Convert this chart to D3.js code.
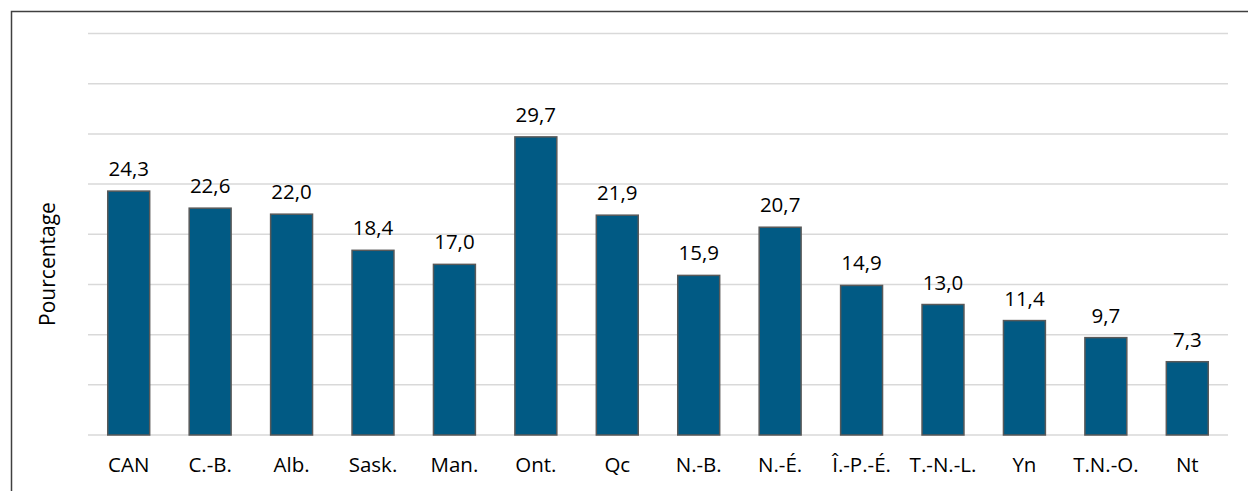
<!DOCTYPE html>
<html lang="fr">
<head>
<meta charset="UTF-8">
<title>Pourcentage par province</title>
<style>
  html, body { margin: 0; padding: 0; background: #fff; }
  svg { display: block; font-family: "Open Sans", "Noto Sans", sans-serif; }
</style>
</head>
<body>
<script src="https://cdn.jsdelivr.net/npm/d3@7"></script>
<script>
var categories = ['CAN', 'C.-B.', 'Alb.', 'Sask.', 'Man.', 'Ont.', 'Qc', 'N.-B.', 'N.-É.', 'Î.-P.-É.', 'T.-N.-L.', 'Yn', 'T.N.-O.', 'Nt'];
var values = [24.3, 22.6, 22.0, 18.4, 17.0, 29.7, 21.9, 15.9, 20.7, 14.9, 13.0, 11.4, 9.7, 7.3];
var yTicks = [0, 5, 10, 15, 20, 25, 30, 35, 40];
var yTitle = 'Pourcentage';

var width = 1248, height = 491;
var svg = d3.select('body').append('svg').attr('width', width).attr('height', height);

// outer frame (only top and left edges are visible in the picture)
svg.append('path')
    .attr('d', 'M11.5,' + height + 'V11.5H' + width)
    .attr('fill', 'none').attr('stroke', '#404040').attr('stroke-width', 1.5);

var x = d3.scaleBand().domain(categories).range([88, 1228]).paddingInner(0.485).paddingOuter(0.2425);
var y = d3.scaleLinear().domain([0, 40]).range([435, 33.5]);

// gridlines
svg.append('g').selectAll('line').data(yTicks).enter().append('line')
    .attr('x1', 88).attr('x2', 1228)
    .attr('y1', function(d){ return y(d); }).attr('y2', function(d){ return y(d); })
    .attr('stroke', '#d9d9d9').attr('stroke-width', 1.5);

// bars
svg.append('g').selectAll('rect').data(values).enter().append('rect')
    .attr('x', function(d, i){ return x(categories[i]); })
    .attr('y', function(d){ return y(d); })
    .attr('width', x.bandwidth())
    .attr('height', function(d){ return y(0) - y(d); })
    .attr('fill', '#015a84').attr('stroke', '#595959').attr('stroke-width', 1.5);

// value labels
svg.append('g').selectAll('text').data(values).enter().append('text')
    .attr('x', function(d, i){ return x(categories[i]) + x.bandwidth() / 2; })
    .attr('y', function(d){ return y(d) - 15; })
    .attr('text-anchor', 'middle').attr('font-size', 20.5).attr('fill', '#000')
    .text(function(d){ return d.toFixed(1).replace('.', ','); });

// category axis
var xAxis = svg.append('g').attr('transform', 'translate(0,435)')
    .call(d3.axisBottom(x).tickSize(0).tickPadding(22));
xAxis.select('.domain').remove();
xAxis.attr('font-family', null).attr('font-size', 20.5);
xAxis.selectAll('text').attr('fill', '#000');

// y title
svg.append('text')
    .attr('transform', 'translate(55,264) rotate(-90)')
    .attr('text-anchor', 'middle').attr('font-size', 21).attr('fill', '#000')
    .text(yTitle);
</script>
</body>
</html>
